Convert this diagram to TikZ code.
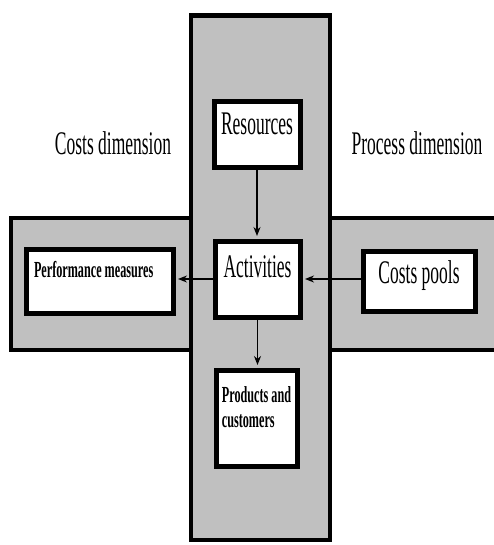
\documentclass[tikz,border=0pt]{standalone}
\usepackage{fontspec}
\setmainfont{Liberation Serif}
\newfontfamily\narrowfont[FakeStretch=0.53]{Liberation Serif}
\usetikzlibrary{arrows.meta}
\definecolor{bargray}{RGB}{192,192,192}

\begin{document}
\begin{tikzpicture}[x=1pt, y=-1pt,
    bar/.style={draw, line width=4.5pt, fill=bargray},
    stage/.style={draw, line width=5pt, fill=white, inner sep=0pt},
    bigfont/.style={font=\narrowfont\fontsize{33}{36}\selectfont},
    smallfont/.style={font=\narrowfont\bfseries\fontsize{23}{25}\selectfont},
    flow/.style={line width=1.4pt, shorten >=2.5pt, -{Stealth[length=9pt, width=7pt]}}]
  \useasboundingbox (0,0) rectangle (494,545);

  % the two dimensions: horizontal bar first, vertical bar on top
  \draw[bar] (11,218) rectangle (500,350);
  \draw[bar] (191,15.5) rectangle (330,540);

  \node[bigfont, anchor=base] (costdim) at (113,155) {Costs dimension};
  \node[bigfont, anchor=base] (procdim) at (417,155) {Process dimension};

  \node[stage, bigfont, minimum width=86pt, text height=33pt, text depth=33pt] (res) at (257,135) {Resources};
  \node[stage, bigfont, minimum width=85pt, text height=36pt, text depth=40pt] (act) at (257.5,279) {Activities};
  \node[stage, smallfont, inner xsep=8pt, text width=131pt, align=flush left, text height=28pt, text depth=36pt] (perf) at (99.5,281) {Performance measures};
  \node[stage, bigfont, minimum width=112pt, text height=32pt, text depth=28pt] (pools) at (419,281) {Costs pools};
  \node[stage, smallfont, minimum width=81pt, align=left, text height=57pt, text depth=39pt] (prod) at (256.5,418) {Products and\\customers};

  \draw[flow] (res.south) -- (res.south |- act.north);
  \draw[flow] (act.west) -- (act.west -| perf.east);
  \draw[flow] (pools.west |- act.east) -- (act.east);
  \draw[flow] (act.south) -- (act.south |- prod.north);
\end{tikzpicture}
\end{document}
